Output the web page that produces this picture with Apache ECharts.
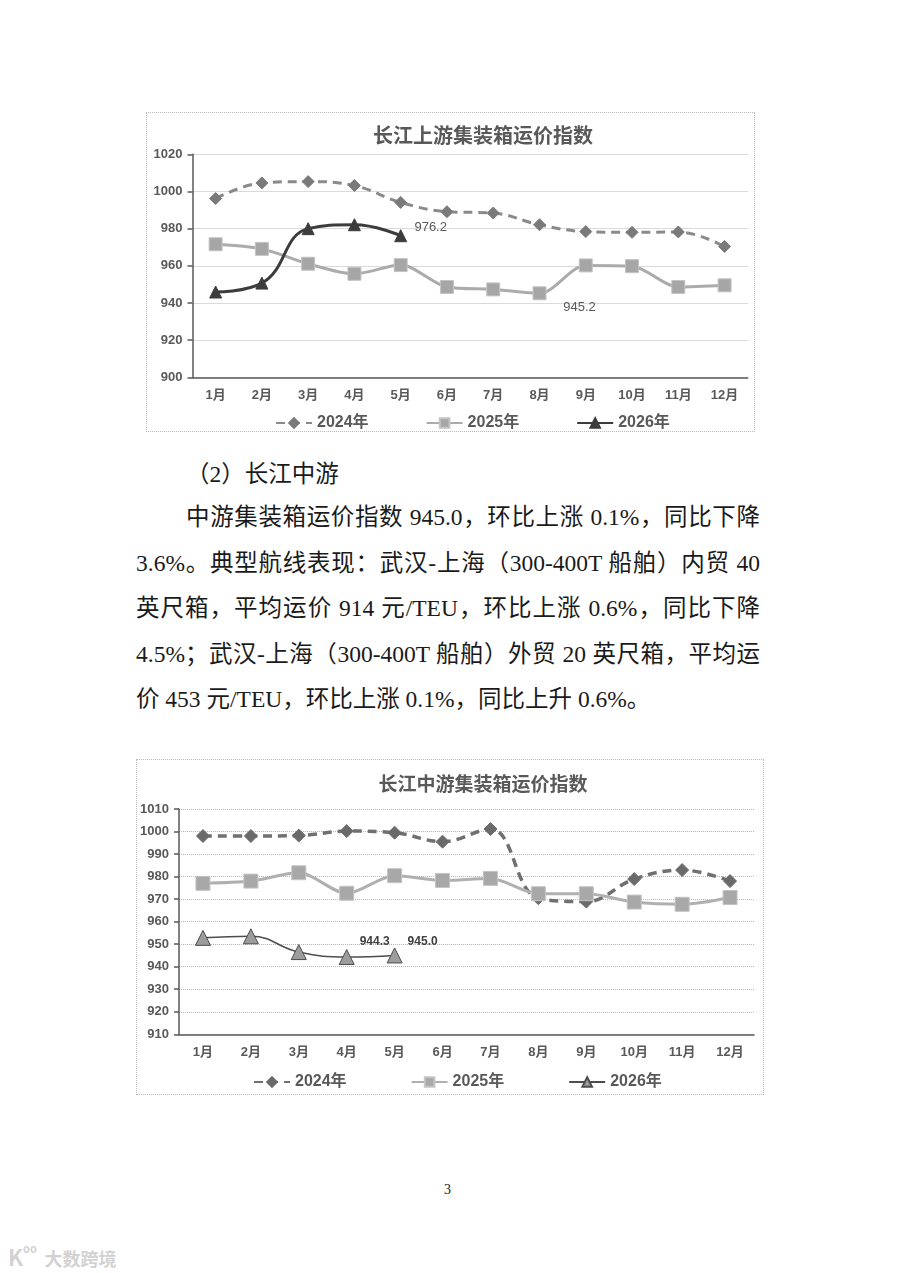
<!DOCTYPE html>
<html>
<head>
<meta charset="utf-8">
<title>长江集装箱运价指数</title>
<script src="https://cdn.jsdelivr.net/npm/echarts@6.0.0/dist/echarts.min.js"></script>
<style>
html, body { margin: 0; padding: 0; background: #fff; }
#page { position: relative; width: 900px; height: 1273px; overflow: hidden;
	font-family: "Liberation Serif", "Noto Sans CJK SC", serif; color: #1a1a1a; }
.chart { position: absolute; }
.frame { position: absolute; border: 1px dotted #b8b8b8; box-sizing: border-box; pointer-events: none; }
.line { position: absolute; font-size: 23.5px; line-height: 45.5px; height: 45.5px; }
.just { text-align: justify; text-align-last: justify; }
</style>
</head>
<body>
<div id="page">
	<div id="upperChart" class="chart" style="left:146px;top:112px;width:609px;height:320px;"></div>
	<div class="frame" style="left:146px;top:112px;width:609px;height:320px;"></div>

	<div class="line" style="left:186px;top:452px;">（2）长江中游</div>
	<div class="line just" style="left:186px;top:495px;width:574px;">中游集装箱运价指数 945.0，环比上涨 0.1%，同比下降</div>
	<div class="line just" style="left:136px;top:540.5px;width:624px;">3.6%。典型航线表现：武汉-上海（300-400T 船舶）内贸 40</div>
	<div class="line just" style="left:136px;top:586px;width:624px;">英尺箱，平均运价 914 元/TEU，环比上涨 0.6%，同比下降</div>
	<div class="line just" style="left:136px;top:631.5px;width:624px;">4.5%；武汉-上海（300-400T 船舶）外贸 20 英尺箱，平均运</div>
	<div class="line" style="left:136px;top:677px;">价 453 元/TEU，环比上涨 0.1%，同比上升 0.6%。</div>

	<div id="middleChart" class="chart" style="left:136px;top:759px;width:628px;height:336px;"></div>
	<div class="frame" style="left:136px;top:759px;width:628px;height:336px;"></div>

	<div style="position:absolute;left:444px;top:1182px;font-size:14px;">3</div>
	<div style="position:absolute;left:8px;top:1240px;font-family:'Noto Sans CJK SC',sans-serif;color:#d2d2d2;font-weight:bold;">
		<span style="font-size:22px;">K</span><span style="font-size:11px;vertical-align:top;">oo</span>
		<span style="font-size:18px;margin-left:4px;">大数跨境</span>
	</div>
</div>

<script>
var months = ['1月', '2月', '3月', '4月', '5月', '6月', '7月', '8月', '9月', '10月', '11月', '12月'];
var legendNames = ['2024年', '2025年', '2026年'];

// 长江上游
var upper2024 = [996.2, 1004.6, 1005.3, 1003.2, 994.1, 989.1, 988.4, 982.1, 978.4, 978.0, 978.2, 970.4];
var upper2025 = [971.6, 969.1, 961.1, 955.7, 960.4, 948.6, 947.3, 945.2, 960.2, 959.8, 948.6, 949.5];
var upper2026 = [945.9, 950.7, 980.0, 982.1, 976.2];

// 长江中游
var middle2024 = [998.0, 998.0, 998.2, 1000.2, 999.5, 995.5, 1001.1, 970.4, 968.9, 978.9, 982.9, 978.0];
var middle2025 = [977.0, 978.0, 981.7, 972.6, 980.4, 978.3, 979.2, 972.4, 972.4, 968.7, 967.7, 970.7];
var middle2026 = [952.8, 953.5, 946.5, 944.3, 945.0];

var FONT = '"Liberation Sans", "Noto Sans CJK SC", sans-serif';
var AXIS_COLOR = '#595959';

// put a value label on one point
function withLabel(values, idx, offset, style) {
	return values.map(function(v, i) {
		if (i !== idx) return v;
		var label = { show: true, position: 'inside', offset: offset, formatter: v.toFixed(1),
			fontFamily: FONT, fontSize: 13, color: '#595959' };
		for (var k in style) label[k] = style[k];
		return { value: v, label: label };
	});
}

function lineSeries(name, data, s) {
	return {
		name: name,
		type: 'line',
		data: data,
		smooth: s.smooth,
		symbol: s.symbol,
		symbolSize: s.size,
		showAllSymbol: true,
		lineStyle: { color: s.line, width: s.width, type: s.dash || 'solid' },
		itemStyle: { color: s.fill, borderColor: s.border || s.fill, borderWidth: 1 },
		emphasis: { disabled: true },
		z: s.z
	};
}

function makeChart(el, cfg) {
	var chart = echarts.init(el, null, { renderer: 'canvas' });
	var option = {
		animation: false,
		textStyle: { fontFamily: FONT },
		title: {
			text: cfg.title,
			left: cfg.titleX,
			top: cfg.titleY,
			textAlign: 'center',
			textStyle: { fontFamily: FONT, fontSize: cfg.titleSize, fontWeight: 'bold', color: AXIS_COLOR }
		},
		legend: {
			data: legendNames,
			left: cfg.legendX,
			top: cfg.legendY,
			itemGap: cfg.legendGap,
			itemWidth: 36,
			itemHeight: 12,
			textStyle: { fontFamily: FONT, fontSize: 16, fontWeight: 'bold', color: AXIS_COLOR }
		},
		grid: cfg.grid,
		xAxis: {
			type: 'category',
			data: months,
			boundaryGap: true,
			axisLine: { lineStyle: { color: AXIS_COLOR, width: 1.5 } },
			axisTick: { inside: true, length: 6, lineStyle: { color: AXIS_COLOR, width: 1.5 } },
			axisLabel: { fontFamily: FONT, fontSize: 13, fontWeight: 'bold', color: AXIS_COLOR, margin: 12 }
		},
		yAxis: {
			type: 'value',
			min: cfg.min,
			max: cfg.max,
			interval: cfg.interval,
			axisLine: { show: true, lineStyle: { color: AXIS_COLOR, width: 1.5 } },
			axisTick: { show: true, length: 5, lineStyle: { color: AXIS_COLOR, width: 1.5 } },
			axisLabel: {
				fontFamily: FONT, fontSize: 13, fontWeight: 'bold', color: AXIS_COLOR, margin: 10,
				formatter: function(v) { return String(v); }
			},
			splitLine: { lineStyle: { type: 'dotted', color: '#b5b5b5', width: 1 } }
		},
		series: cfg.series
	};
	chart.setOption(option);
	return chart;
}

makeChart(document.getElementById('upperChart'), {
	title: '长江上游集装箱运价指数', titleX: 332, titleY: 10, titleSize: 20,
	legendX: 124, legendY: 298, legendGap: 57,
	grid: { left: 46.5, right: 7.3, top: 42.3, bottom: 54.7, outerBoundsMode: 'none' },
	min: 900, max: 1020, interval: 20,
	series: [
		lineSeries('2024年', upper2024, { smooth: 0.4, symbol: 'diamond', size: 12, line: '#8a8a8a', width: 3, dash: [9, 6], fill: '#7a7a7a', z: 2 }),
		lineSeries('2025年', withLabel(upper2025, 7, [40, 14], {}), { smooth: 0.3, symbol: 'rect', size: 13, line: '#ababab', width: 3, fill: '#a6a6a6', border: '#c4c4c4', z: 3 }),
		lineSeries('2026年', withLabel(upper2026, 4, [30, -8], {}), { smooth: 0.45, symbol: 'triangle', size: 12, line: '#3c3c3c', width: 3, fill: '#3c3c3c', z: 4 })
	]
});

makeChart(document.getElementById('middleChart'), {
	title: '长江中游集装箱运价指数', titleX: 342, titleY: 12, titleSize: 19,
	legendX: 112, legendY: 310, legendGap: 64,
	grid: { left: 43, right: 10, top: 50, bottom: 60.7, outerBoundsMode: 'none' },
	min: 910, max: 1010, interval: 10,
	series: [
		lineSeries('2024年', middle2024, { smooth: 0.4, symbol: 'diamond', size: 13, line: '#707070', width: 3.5, dash: [9, 6], fill: '#6a6a6a', z: 2 }),
		lineSeries('2025年', middle2025, { smooth: 0.3, symbol: 'rect', size: 14, line: '#b0b0b0', width: 3, fill: '#a8a8a8', border: '#c4c4c4', z: 3 }),
		lineSeries('2026年',
			withLabel(withLabel(middle2026, 3, [28, -15], { fontWeight: 'bold', fontSize: 12, color: '#404040' }), 4, [28, -14], { fontWeight: 'bold', fontSize: 12, color: '#404040' }),
			{ smooth: 0.45, symbol: 'triangle', size: 15, line: '#4d4d4d', width: 1.5, fill: '#9c9c9c', border: '#4d4d4d', z: 4 })
	]
});
</script>
</body>
</html>
